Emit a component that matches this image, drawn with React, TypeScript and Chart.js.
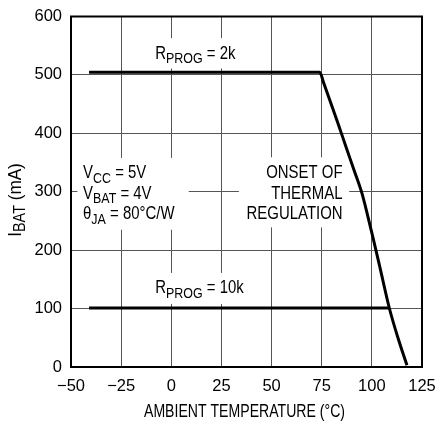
import { useEffect, useRef } from 'react';
import { Chart, registerables } from 'chart.js';

Chart.register(...registerables);

// ---- data ----
const xTicks = [-50, -25, 0, 25, 50, 75, 100, 125];
const yTicks = [0, 100, 200, 300, 400, 500, 600];

const tempsProg2k = [-41, 74, 76, 79, 83, 87, 91, 95, 98, 101, 104, 108.7, 113, 117.5];
const ibatProg2k = [504.5, 504.5, 486, 457, 418, 378, 338, 298, 258, 215, 171, 101, 50, 3];

const tempsProg10k = [-41, 108.7];
const ibatProg10k = [101, 101];

const xTitle = 'AMBIENT TEMPERATURE (°C)';

type Seg = { t: string; sub?: boolean };
// annotation texts (anchor given in data units)
const notes: { lines: Seg[][]; x: number; y: number; align: 'left' | 'right' }[] = [
  { lines: [[{ t: 'R' }, { t: 'PROG', sub: true }, { t: ' = 2k' }]], x: -8, y: 528, align: 'left' },
  { lines: [[{ t: 'R' }, { t: 'PROG', sub: true }, { t: ' = 10k' }]], x: -8, y: 126.5, align: 'left' },
  {
    lines: [
      [{ t: 'V' }, { t: 'CC', sub: true }, { t: ' = 5V' }],
      [{ t: 'V' }, { t: 'BAT', sub: true }, { t: ' = 4V' }],
      [{ t: 'θ' }, { t: 'JA', sub: true }, { t: ' = 80°C/W' }],
    ],
    x: -44, y: 323, align: 'left',
  },
  {
    lines: [[{ t: 'ONSET OF' }], [{ t: 'THERMAL' }], [{ t: 'REGULATION' }]],
    x: 85.4, y: 323, align: 'right',
  },
];
// gaps cut into the grid behind the annotations [x0, x1, y0, y1] in data units
const gaps = [
  [-10.3, 37, 511, 563],
  [-10.3, 37, 108, 161],
  [-46.8, 8.7, 235, 358],
  [33.7, 88.7, 239, 359],
];

const FAM = '"Liberation Sans", Arial, sans-serif';
const NARROW = 0.83;
const MAIN = 18;
const SUB = 15;
const LINE_H = 20.5;

function drawRich(
  ctx: CanvasRenderingContext2D, segs: Seg[], x: number, y: number,
  align: 'left' | 'right' | 'center', main: number, sub: number, sx: number,
) {
  let w = 0;
  for (const s of segs) {
    ctx.font = `${s.sub ? sub : main}px ${FAM}`;
    w += ctx.measureText(s.t).width;
  }
  const start = align === 'left' ? 0 : align === 'right' ? -w : -w / 2;
  ctx.save();
  ctx.translate(x, y);
  ctx.scale(sx, 1);
  ctx.textBaseline = 'alphabetic';
  ctx.textAlign = 'left';
  let cx = start;
  for (const s of segs) {
    ctx.font = `${s.sub ? sub : main}px ${FAM}`;
    ctx.fillText(s.t, cx, s.sub ? 4.4 : 0);
    cx += ctx.measureText(s.t).width;
  }
  ctx.restore();
}

const annotPlugin = {
  id: 'annot',
  beforeDatasetsDraw(chart: any) {
    const { ctx, scales } = chart;
    const xs = scales.x, ys = scales.y;
    ctx.save();
    ctx.fillStyle = '#fff';
    for (const g of gaps) {
      const x0 = xs.getPixelForValue(g[0]);
      const x1 = xs.getPixelForValue(g[1]);
      const y0 = ys.getPixelForValue(g[3]);
      const y1 = ys.getPixelForValue(g[2]);
      ctx.fillRect(x0, y0, x1 - x0, y1 - y0);
    }
    ctx.fillStyle = '#000';
    for (const n of notes) {
      const px = xs.getPixelForValue(n.x);
      const py = ys.getPixelForValue(n.y);
      n.lines.forEach((ln, i) => drawRich(ctx, ln, px, py + i * LINE_H, n.align, MAIN, SUB, NARROW));
    }
    ctx.restore();
  },
  afterDraw(chart: any) {
    const { ctx, chartArea: a } = chart;
    ctx.save();
    ctx.strokeStyle = '#000';
    ctx.lineWidth = 2;
    ctx.strokeRect(a.left, a.top, a.right - a.left, a.bottom - a.top);
    ctx.fillStyle = '#000';
    // x axis title
    drawRich(ctx, [{ t: xTitle }], (a.left + a.right) / 2 - 2, 416.5, 'center', 17.5, 15, 0.805);
    // y axis title
    ctx.translate(21, 200);
    ctx.rotate(-Math.PI / 2);
    drawRich(ctx, [{ t: 'I' }, { t: 'BAT', sub: true }, { t: ' (mA)' }], 0, 0, 'center', 19, 16, 0.9);
    ctx.restore();
  },
};

const fmt = (v: number) => (v < 0 ? '\u2212' + Math.abs(v) : String(v));

export default function App() {
  const ref = useRef<HTMLCanvasElement>(null);
  useEffect(() => {
    if (!ref.current) return;
    const tickFont = { family: FAM, size: 16.5 };
    const chart = new Chart(ref.current, {
      type: 'line',
      data: {
        datasets: [
          {
            data: tempsProg2k.map((x, i) => ({ x, y: ibatProg2k[i] })),
            borderColor: '#000',
            borderWidth: 3,
            pointRadius: 0,
            cubicInterpolationMode: 'monotone',
            borderJoinStyle: 'round',
            fill: false,
          },
          {
            data: tempsProg10k.map((x, i) => ({ x, y: ibatProg10k[i] })),
            borderColor: '#000',
            borderWidth: 3,
            pointRadius: 0,
            fill: false,
          },
        ],
      },
      options: {
        animation: false,
        responsive: false,
        devicePixelRatio: 1,
        layout: { padding: { top: 16.5, right: 14, left: 0, bottom: 0 } },
        plugins: { legend: { display: false }, tooltip: { enabled: false } },
        scales: {
          x: {
            type: 'linear',
            min: -50,
            max: 125,
            afterBuildTicks: (s: any) => { s.ticks = xTicks.map((v) => ({ value: v })); },
            afterFit: (s: any) => { s.height = 58; s.paddingLeft = 0; s.paddingRight = 0; },
            ticks: { font: tickFont, color: '#000', padding: 10, maxRotation: 0, autoSkip: false, callback: (v: any) => fmt(Number(v)) },
            grid: { color: '#555', lineWidth: 1, drawTicks: false },
            border: { display: false },
          },
          y: {
            type: 'linear',
            min: 0,
            max: 600,
            afterBuildTicks: (s: any) => { s.ticks = yTicks.map((v) => ({ value: v })); },
            afterFit: (s: any) => { s.width = 71; s.paddingTop = 0; s.paddingBottom = 0; },
            ticks: { font: tickFont, color: '#000', padding: 9, autoSkip: false },
            grid: { color: '#555', lineWidth: 1, drawTicks: false },
            border: { display: false },
          },
        },
      },
      plugins: [annotPlugin],
    } as any);
    return () => chart.destroy();
  }, []);
  return (
    <div style={{ position: 'absolute', left: 0, top: 0, width: 436, height: 425, background: '#fff' }}>
      <canvas ref={ref} width={436} height={425} style={{ display: 'block' }} />
    </div>
  );
}
